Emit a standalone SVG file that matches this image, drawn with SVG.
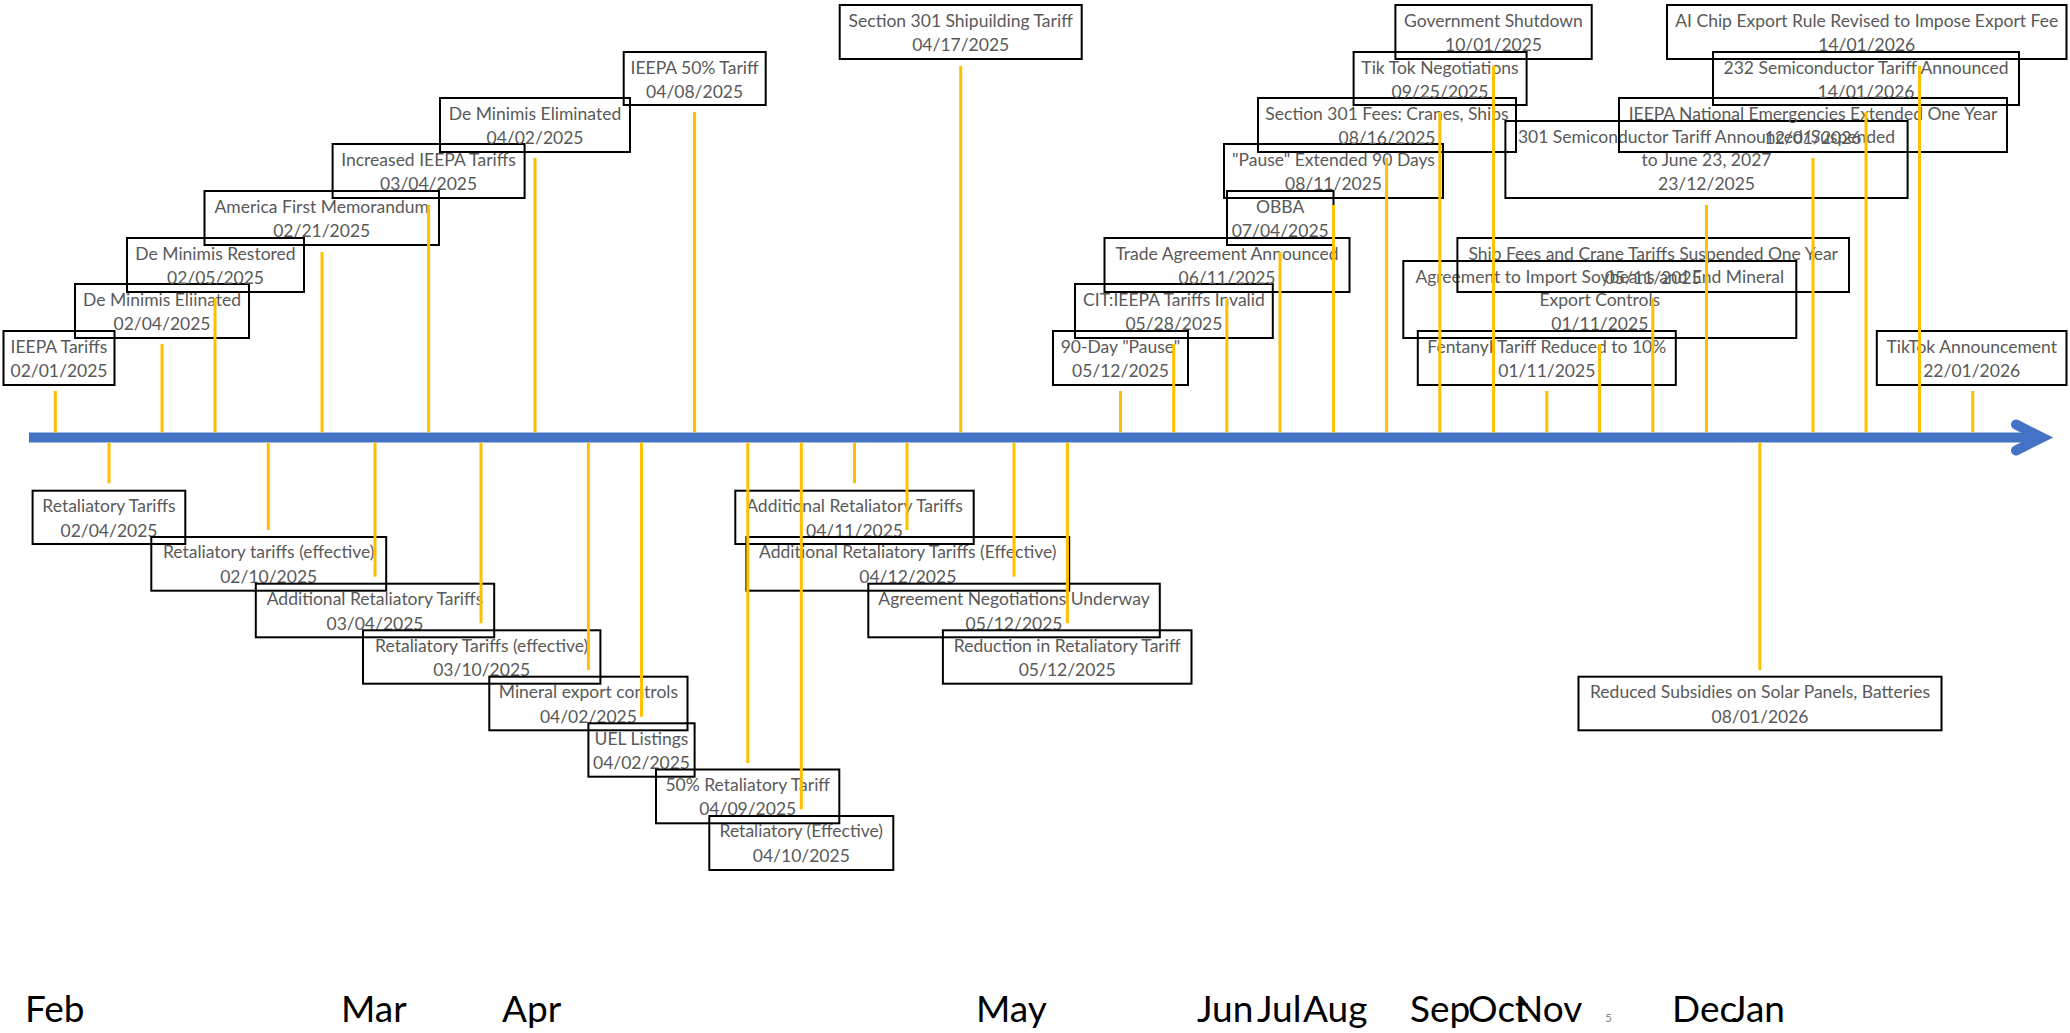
<svg xmlns="http://www.w3.org/2000/svg" width="2070" height="1033" viewBox="0 0 2070 1033">
<style>
.b{fill:none;stroke:#000;stroke-width:2}
.t{font-family:Lato,"Liberation Sans",sans-serif;font-size:17.5px;fill:#595959;text-anchor:middle}
.m{font-family:Lato,"Liberation Sans",sans-serif;font-size:37px;fill:#000}
.s{stroke:#FFC000;stroke-width:3;fill:none}
</style>
<rect width="2070" height="1033" fill="#fff"/>
<g id="axis">
<line x1="29" y1="437.5" x2="2040" y2="437.5" stroke="#4472C4" stroke-width="10"/>
<path d="M2016,424.5 L2042,437.5 L2016,450.5" fill="none" stroke="#4472C4" stroke-width="10" stroke-linecap="round" stroke-linejoin="miter"/>
</g>
<g id="n1"><rect class="b" x="3.5" y="331" width="111" height="54"/><text class="t" x="59" y="352.5">IEEPA Tariffs</text><text class="t" x="59" y="377">02/01/2025</text></g>
<g id="n2"><rect class="b" x="75" y="284" width="174" height="54"/><text class="t" x="162" y="305.5">De Minimis Eliinated</text><text class="t" x="162" y="330">02/04/2025</text></g>
<g id="n3"><rect class="b" x="127" y="238" width="177" height="54"/><text class="t" x="215.5" y="259.5">De Minimis Restored</text><text class="t" x="215.5" y="284">02/05/2025</text></g>
<g id="n4"><rect class="b" x="204.5" y="191" width="234.5" height="54"/><text class="t" x="321.7" y="212.5">America First Memorandum</text><text class="t" x="321.7" y="237">02/21/2025</text></g>
<g id="n5"><rect class="b" x="332.6" y="144" width="192" height="54"/><text class="t" x="428.6" y="165.5">Increased IEEPA Tariffs</text><text class="t" x="428.6" y="190">03/04/2025</text></g>
<g id="n6"><rect class="b" x="440" y="98" width="190" height="54"/><text class="t" x="535" y="119.5">De Minimis Eliminated</text><text class="t" x="535" y="144">04/02/2025</text></g>
<g id="n7"><rect class="b" x="623.7" y="52" width="142" height="53"/><text class="t" x="694.6" y="73.5">IEEPA 50% Tariff</text><text class="t" x="694.6" y="98">04/08/2025</text></g>
<g id="n8"><rect class="b" x="839.7" y="5" width="242" height="54"/><text class="t" x="960.7" y="26.5">Section 301 Shipuilding Tariff</text><text class="t" x="960.7" y="51">04/17/2025</text></g>
<g id="n9"><rect class="b" x="1053" y="331" width="135" height="54"/><text class="t" x="1120.5" y="352.5">90-Day "Pause"</text><text class="t" x="1120.5" y="377">05/12/2025</text></g>
<g id="n10"><rect class="b" x="1075" y="284" width="197.8" height="54"/><text class="t" x="1173.9" y="305.5">CIT:IEEPA Tariffs Invalid</text><text class="t" x="1173.9" y="330">05/28/2025</text></g>
<g id="n11"><rect class="b" x="1104.5" y="238" width="245" height="54"/><text class="t" x="1227" y="259.5">Trade Agreement Announced</text><text class="t" x="1227" y="284">06/11/2025</text></g>
<g id="n12"><rect class="b" x="1227" y="191" width="106.5" height="54"/><text class="t" x="1280.2" y="212.5">OBBA</text><text class="t" x="1280.2" y="237">07/04/2025</text></g>
<g id="n13"><rect class="b" x="1224" y="144" width="219" height="54"/><text class="t" x="1333.5" y="165.5">"Pause" Extended 90 Days</text><text class="t" x="1333.5" y="190">08/11/2025</text></g>
<g id="n14"><rect class="b" x="1258" y="98" width="258" height="54"/><text class="t" x="1387" y="119.5">Section 301 Fees: Cranes, Ships</text><text class="t" x="1387" y="144">08/16/2025</text></g>
<g id="n15"><rect class="b" x="1353.6" y="52" width="173" height="53"/><text class="t" x="1440" y="73.5">Tik Tok Negotiations</text><text class="t" x="1440" y="98">09/25/2025</text></g>
<g id="n16"><rect class="b" x="1395.4" y="5" width="196.3" height="54"/><text class="t" x="1493.5" y="26.5">Government Shutdown</text><text class="t" x="1493.5" y="51">10/01/2025</text></g>
<g id="n17"><rect class="b" x="1417.8" y="331" width="258" height="54"/><text class="t" x="1546.8" y="352.5">Fentanyl Tariff Reduced to 10%</text><text class="t" x="1546.8" y="377">01/11/2025</text></g>
<g id="n18"><rect class="b" x="1403.3" y="261" width="393" height="77"/><text class="t" x="1599.8" y="282.7">Agreement to Import Soybeans and End Mineral</text><text class="t" x="1599.8" y="306.4">Export Controls</text><text class="t" x="1599.8" y="330.1">01/11/2025</text></g>
<g id="n19"><rect class="b" x="1457.4" y="238" width="391.6" height="54"/><text class="t" x="1653.2" y="259.5">Ship Fees and Crane Tariffs Suspended One Year</text><text class="t" x="1653.2" y="284">05/11/2025</text></g>
<g id="n20"><rect class="b" x="1505.4" y="121" width="402.2" height="77"/><text class="t" x="1706.5" y="142.7">301 Semiconductor Tariff Announced/Suspended</text><text class="t" x="1706.5" y="166.4">to June 23, 2027</text><text class="t" x="1706.5" y="190.1">23/12/2025</text></g>
<g id="n21"><rect class="b" x="1619" y="98" width="388" height="54"/><text class="t" x="1813" y="119.5">IEEPA National Emergencies Extended One Year</text><text class="t" x="1813" y="144">12/01/2026</text></g>
<g id="n22"><rect class="b" x="1713" y="52" width="306" height="53"/><text class="t" x="1866" y="73.5">232 Semiconductor Tariff Announced</text><text class="t" x="1866" y="98">14/01/2026</text></g>
<g id="n23"><rect class="b" x="1667" y="5" width="399.5" height="54"/><text class="t" x="1866.7" y="26.5">AI Chip Export Rule Revised to Impose Export Fee</text><text class="t" x="1866.7" y="51">14/01/2026</text></g>
<g id="n24"><rect class="b" x="1876.8" y="331" width="189.7" height="54"/><text class="t" x="1971.7" y="352.5">TikTok Announcement</text><text class="t" x="1971.7" y="377">22/01/2026</text></g>
<g id="l1"><rect class="b" x="32.6" y="490.7" width="152.7" height="53.3"/><text class="t" x="109" y="512">Retaliatory Tariffs</text><text class="t" x="109" y="536.5">02/04/2025</text></g>
<g id="l2"><rect class="b" x="151.3" y="537" width="234.9" height="53.7"/><text class="t" x="268.7" y="558.3">Retaliatory tariffs (effective)</text><text class="t" x="268.7" y="582.8">02/10/2025</text></g>
<g id="l3"><rect class="b" x="255.8" y="583.7" width="238.4" height="53.6"/><text class="t" x="375" y="605">Additional Retaliatory Tariffs</text><text class="t" x="375" y="629.5">03/04/2025</text></g>
<g id="l4"><rect class="b" x="363" y="630.3" width="237.4" height="53.4"/><text class="t" x="481.7" y="651.6">Retaliatory Tariffs (effective)</text><text class="t" x="481.7" y="676.1">03/10/2025</text></g>
<g id="l5"><rect class="b" x="489.3" y="676.7" width="198.2" height="53.6"/><text class="t" x="588.4" y="698">Mineral export controls</text><text class="t" x="588.4" y="722.5">04/02/2025</text></g>
<g id="l6"><rect class="b" x="588.4" y="723.3" width="106.2" height="53.4"/><text class="t" x="641.5" y="744.6">UEL Listings</text><text class="t" x="641.5" y="769.1">04/02/2025</text></g>
<g id="l7"><rect class="b" x="656" y="769.5" width="183.3" height="53.8"/><text class="t" x="747.7" y="790.8">50% Retaliatory Tariff</text><text class="t" x="747.7" y="815.3">04/09/2025</text></g>
<g id="l8"><rect class="b" x="709.3" y="816" width="184" height="54"/><text class="t" x="801.3" y="837.3">Retaliatory (Effective)</text><text class="t" x="801.3" y="861.8">04/10/2025</text></g>
<g id="l9"><rect class="b" x="735.3" y="490.7" width="238.4" height="53.3"/><text class="t" x="854.5" y="512">Additional Retaliatory Tariffs</text><text class="t" x="854.5" y="536.5">04/11/2025</text></g>
<g id="l10"><rect class="b" x="746.4" y="537" width="322.8" height="53.7"/><text class="t" x="907.8" y="558.3">Additional Retaliatory Tariffs (Effective)</text><text class="t" x="907.8" y="582.8">04/12/2025</text></g>
<g id="l11"><rect class="b" x="868.3" y="583.7" width="291.5" height="53.6"/><text class="t" x="1014" y="605">Agreement Negotiations Underway</text><text class="t" x="1014" y="629.5">05/12/2025</text></g>
<g id="l12"><rect class="b" x="942.9" y="630.3" width="248.6" height="53.4"/><text class="t" x="1067.2" y="651.6">Reduction in Retaliatory Tariff</text><text class="t" x="1067.2" y="676.1">05/12/2025</text></g>
<g id="l13"><rect class="b" x="1578.5" y="676.7" width="363" height="53.6"/><text class="t" x="1760" y="698">Reduced Subsidies on Solar Panels, Batteries</text><text class="t" x="1760" y="722.5">08/01/2026</text></g>
<g id="connectors">
<path class="s" d="M55.3,432.5V391 M162,432.5V344 M215,432.5V298 M322,432.5V252 M428.6,432.5V205 M535,432.5V158 M694.6,432.5V112 M960.7,432.5V65.7 M1120.5,432.5V391 M1173.7,432.5V344 M1226.8,432.5V298 M1280,432.5V252 M1333.5,432.5V205 M1386.6,432.5V158 M1439.8,432.5V112 M1493.5,432.5V65.7 M1546.8,432.5V391 M1599.6,432.5V344 M1652.8,432.5V298 M1706.5,432.5V205 M1813,432.5V158 M1866,432.5V112 M1919.5,432.5V65.7 M1972.7,432.5V391"/>
<path class="s" d="M109,442.5V483.3 M268.3,442.5V530 M375,442.5V576.7 M481,442.5V623.3 M588.4,442.5V670 M641.5,442.5V716.7 M747.8,442.5V763 M801.3,442.5V809.3 M854.5,442.5V483.3 M907,442.5V530 M1014,442.5V576.7 M1067.4,442.5V623.3 M1759.8,442.5V670"/>
</g>
<g id="months">
<text class="m" x="25" y="1022">Feb</text>
<text class="m" x="341" y="1022">Mar</text>
<text class="m" x="502" y="1022">Apr</text>
<text class="m" x="976" y="1022">May</text>
<text class="m" x="1197" y="1022">Jun</text>
<text class="m" x="1257" y="1022">Jul</text>
<text class="m" x="1303" y="1022">Aug</text>
<text class="m" x="1410" y="1022">Sep</text>
<text class="m" x="1468" y="1022">Oct</text>
<text class="m" x="1515" y="1022">Nov</text>
<text x="1605" y="1022" style="font-family:Lato,'Liberation Sans',sans-serif;font-size:12px;fill:#898989">5</text>
<text class="m" x="1672" y="1022">Dec</text>
<text class="m" x="1731" y="1022">Jan</text>
</g>
</svg>
